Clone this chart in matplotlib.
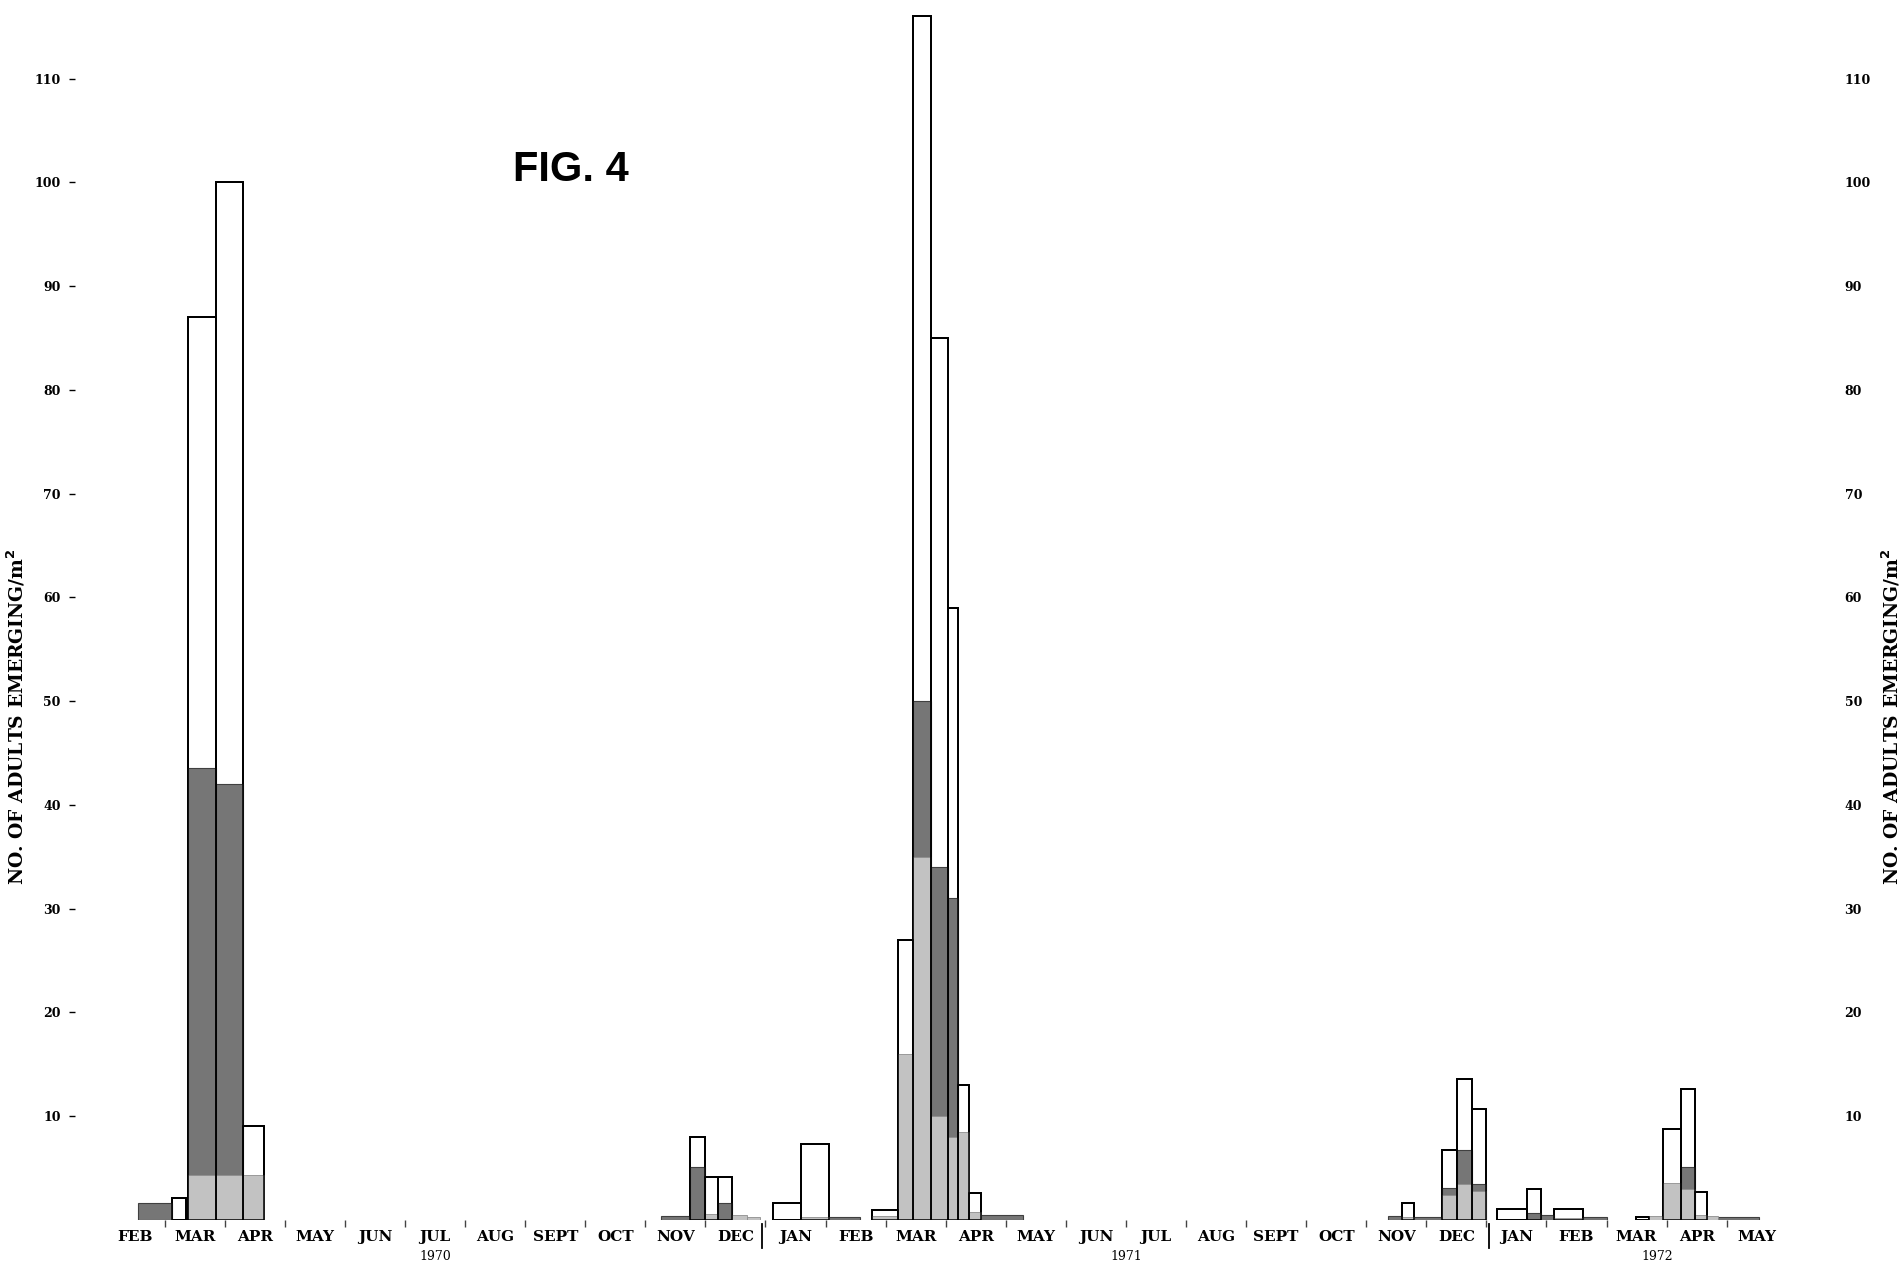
import numpy as np
import matplotlib
matplotlib.use("Agg")
import matplotlib.pyplot as plt

# ---------------- data ----------------
months = ['FEB', 'MAR', 'APR', 'MAY', 'JUN', 'JUL', 'AUG', 'SEPT', 'OCT', 'NOV', 'DEC',
          'JAN', 'FEB', 'MAR', 'APR', 'MAY', 'JUN', 'JUL', 'AUG', 'SEPT', 'OCT', 'NOV', 'DEC',
          'JAN', 'FEB', 'MAR', 'APR', 'MAY']
year_labels = ['1970', '1971', '1972']
year_pos = [5.5, 17.0, 25.85]          # in month units (Feb 1970 = 0..1)
separators = [10.95, 23.05]            # year breaks between DEC and JAN

# sampling intervals (month units) and numbers emerging per m2
bar_start = [0.56, 1.12, 1.39, 1.86, 2.30,
             9.26, 9.74, 9.99, 10.21, 10.44, 10.69,
             11.12, 11.59, 12.06, 12.77, 13.21, 13.45, 13.75, 14.04, 14.20, 14.38, 14.58,
             21.36, 21.60, 21.80, 22.26, 22.51, 22.76,
             23.18, 23.68, 23.91, 24.13, 24.61, 25.49, 25.71, 25.94, 26.24, 26.47, 26.68, 26.86]
bar_end = [1.12, 1.35, 1.86, 2.30, 2.65,
           9.74, 9.99, 10.21, 10.44, 10.69, 10.91,
           11.59, 12.06, 12.57, 13.21, 13.45, 13.75, 14.04, 14.20, 14.38, 14.58, 15.29,
           21.60, 21.80, 22.26, 22.51, 22.76, 23.00,
           23.68, 23.91, 24.13, 24.61, 25.01, 25.71, 25.94, 26.24, 26.47, 26.68, 26.86, 27.53]
# total (open, outlined part)
total_vals = [0, 2.1, 87, 100, 9.1,
              0, 8.0, 4.1, 4.1, 0, 0,
              1.6, 7.3, 0, 1.0, 27, 116, 85, 59, 13, 2.6, 0,
              0, 1.6, 0, 6.7, 13.6, 10.7,
              1.06, 3.0, 0, 1.03, 0, 0.3, 0, 8.8, 12.6, 2.7, 0, 0]
# dense (dark) stippled part
dark_vals = [1.6, 0, 43.6, 42, 0,
             0.42, 5.1, 0, 1.6, 0, 0,
             0, 0, 0.25, 0, 0, 50, 34, 31, 0, 0, 0.45,
             0.42, 0, 0.25, 3.1, 6.75, 3.5,
             0, 0.64, 0.5, 0, 0.26, 0, 0, 0, 5.1, 0, 0, 0.3]
# light stippled part
light_vals = [0, 0, 4.3, 4.3, 4.3,
              0, 0, 0.6, 0, 0.5, 0.25,
              0, 0.3, 0, 0.4, 16, 35, 10, 8, 8.5, 0.8, 0,
              0, 0.3, 0, 2.4, 3.5, 2.8,
              0, 0, 0, 0.2, 0, 0, 0.4, 3.6, 3.0, 0.5, 0.4, 0]

yticks = [10, 20, 30, 40, 50, 60, 70, 80, 90, 100, 110]
ylabel = 'NO. OF ADULTS EMERGING/m$^{\\mathbf{2}}$'

# ---------------- figure ----------------
fig = plt.figure(figsize=(19.03, 12.65), dpi=100)
ax = fig.add_axes([0.0392, 0.0356, 0.9155, 0.9597])
ax.set_xlim(-0.5, 28.5)
ax.set_ylim(0, 117)

starts = np.array(bar_start)
widths = np.array(bar_end) - starts
tot = np.array(total_vals, dtype=float)
drk = np.array(dark_vals, dtype=float)
lgt = np.array(light_vals, dtype=float)

has_tot = tot > 0
ax.bar(starts[has_tot], tot[has_tot], width=widths[has_tot], align='edge',
       facecolor='white', edgecolor='black', linewidth=1.4, zorder=2)
has_d = drk > 0
ax.bar(starts[has_d], drk[has_d], width=widths[has_d], align='edge',
       facecolor='#767676', edgecolor='#404040', linewidth=0.8, zorder=3)
has_l = lgt > 0
ax.bar(starts[has_l], lgt[has_l], width=widths[has_l], align='edge',
       facecolor='#c2c2c2', edgecolor='#8e8e8e', linewidth=0.6, zorder=4)
ax.bar(starts[has_tot], tot[has_tot], width=widths[has_tot], align='edge',
       facecolor='none', edgecolor='black', linewidth=1.1, zorder=5)

for s in ax.spines.values():
    s.set_visible(False)

# x axis: month labels at month centres, small ticks at month boundaries
centers = np.arange(len(months)) + 0.5
ax.set_xticks(centers)
ax.set_xticklabels(months, fontfamily='DejaVu Serif', fontweight='bold', fontsize=11)
ax.tick_params(axis='x', which='major', length=0, pad=7)
ax.set_xticks(np.arange(1, len(months)), minor=True)
ax.tick_params(axis='x', which='minor', length=5, width=1.0, direction='out', color='#444444')

xtr = ax.get_xaxis_transform()
for sx in separators:
    ax.plot([sx, sx], [-0.003, -0.023], transform=xtr, color='black', lw=1.3, clip_on=False)

for lab, xp in zip(year_labels, year_pos):
    ax.annotate(lab, xy=(xp, 0), xycoords=xtr, xytext=(0, -26), textcoords='offset points',
                ha='center', va='center', fontsize=9, fontfamily='DejaVu Serif')

# left y axis
ax.set_yticks(yticks)
ax.set_yticklabels([str(v) for v in yticks], fontfamily='DejaVu Serif',
                   fontweight='bold', fontsize=9)
ax.tick_params(axis='y', length=4, width=1.0, direction='out', pad=6)
ax.set_ylabel(ylabel, fontfamily='DejaVu Serif', fontweight='bold', fontsize=13.5)
ax.yaxis.set_label_coords(-0.027, 0.415)

# right y axis
ax2 = ax.twinx()
ax2.set_ylim(ax.get_ylim())
ax2.set_yticks(yticks)
ax2.set_yticklabels([str(v) for v in yticks], fontfamily='DejaVu Serif',
                    fontweight='bold', fontsize=9)
ax2.tick_params(axis='y', length=0, pad=20)
for s in ax2.spines.values():
    s.set_visible(False)
ax2.set_ylabel(ylabel, fontfamily='DejaVu Serif', fontweight='bold', fontsize=13.5, rotation=90)
ax2.yaxis.set_label_coords(1.036, 0.415)

fig.text(571 / 1903, 1 - 170 / 1265, 'FIG. 4', ha='center', va='center',
         fontsize=30, fontweight='bold', fontfamily='Liberation Sans')

fig.savefig('out.png', dpi=100, facecolor='white')
